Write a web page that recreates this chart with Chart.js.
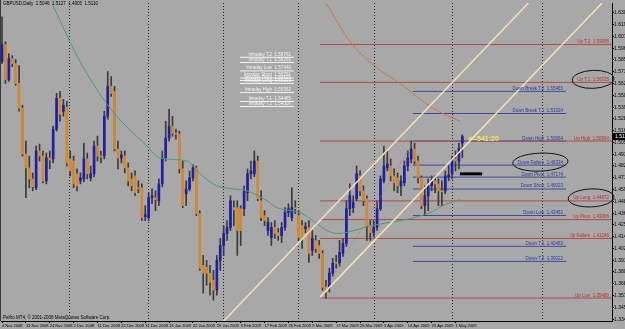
<!DOCTYPE html>
<html>
<head>
<meta charset="utf-8">
<script src="https://cdn.jsdelivr.net/npm/chart.js@4.4.1/dist/chart.umd.min.js"></script>
<style>
  html, body { margin: 0; padding: 0; background: #a8a8a8; overflow: hidden; }
  canvas { display: block; }
</style>
</head>
<body>
<canvas id="chart" width="625" height="329"></canvas>
<script>
const symbolTitle = 'GBPUSD,Daily';
const copyright = 'Pelfro MT4, \u00a9 2001-2008 MetaQuotes Software Corp.';
const countdown = '<--541:20';

// bottom axis: one label every 7 bars
const dateLabels = ['4 Nov 2008', '13 Nov 2008', '24 Nov 2008', '2 Dec 2008', '11 Dec 2008', '22 Dec 2008',
  '31 Dec 2008', '13 Jan 2009', '22 Jan 2009', '29 Jan 2009', '9 Feb 2009', '17 Feb 2009', '26 Feb 2009',
  '9 Mar 2009', '17 Mar 2009', '26 Mar 2009', '3 Apr 2009', '14 Apr 2009', '23 Apr 2009', '1 May 2009'];
const dateStep = 7;
const monthStarts = [19.6, 42.8, 64.8, 86.8, 109.2, 132, 158.4];

const priceTicks = [1.6305, 1.6191, 1.6078, 1.5964, 1.5850, 1.5736, 1.5622, 1.5508, 1.5394, 1.5280,
  1.5166, 1.5052, 1.4939, 1.4825, 1.4711, 1.4597, 1.4483, 1.4369, 1.4255, 1.4141, 1.4027, 1.3913,
  1.3800, 1.3686, 1.3572, 1.3458, 1.3344];

const opens = [1.5834,1.5998,1.5661,1.5863,1.5815,1.5623,1.5383,1.4941,1.4806,1.4700,
  1.4614,1.4970,1.4921,1.4681,1.4902,1.4893,1.5181,1.5479,1.5354,1.5392,
  1.4893,1.4873,1.4749,1.4681,1.4700,1.4893,1.4710,1.4749,1.5018,1.4921,
  1.4921,1.5306,1.5594,1.5546,1.4989,1.4902,1.4921,1.4806,1.4700,1.4729,
  1.4614,1.4614,1.4335,1.4326,1.4518,1.4518,1.4489,1.4652,1.4902,1.5094,
  1.5210,1.5142,1.5133,1.4797,1.4556,1.4604,1.4710,1.4806,1.4364,1.3864,
  1.3845,1.3788,1.3720,1.3624,1.3912,1.4056,1.4172,1.4230,1.4422,1.4422,
  1.4412,1.4412,1.4566,1.4749,1.4749,1.4873,1.4489,1.4345,1.4201,1.4133,
  1.4230,1.4181,1.4153,1.4230,1.4374,1.4326,1.4422,1.4345,1.4249,1.4220,
  1.4230,1.4008,1.4105,1.4056,1.3980,1.3653,1.3653,1.3788,1.3893,1.3884,
  1.3980,1.4076,1.4412,1.4422,1.4508,1.4729,1.4585,1.4508,1.4249,1.4181,
  1.4230,1.4412,1.4681,1.4806,1.4825,1.4729,1.4710,1.4633,1.4662,1.4825,
  1.4893,1.4989,1.4873,1.4710,1.4441,1.4537,1.4633,1.4681,1.4652,1.4585,
  1.4585,1.4720,1.4749,1.4893,1.4873,1.5046];
const highs = [1.6267,1.6027,1.5911,1.5892,1.5854,1.5796,1.5412,1.5066,1.4921,1.4758,
  1.5018,1.5037,1.4970,1.4950,1.4970,1.5210,1.5527,1.5546,1.5469,1.5450,
  1.4970,1.4921,1.4797,1.4758,1.5046,1.4950,1.4825,1.5066,1.5114,1.4970,
  1.5354,1.5738,1.5690,1.5594,1.5066,1.4970,1.4970,1.4854,1.4758,1.4777,
  1.4681,1.4652,1.4441,1.4566,1.4604,1.4585,1.4700,1.4970,1.5258,1.5373,
  1.5306,1.5181,1.5162,1.4873,1.4681,1.4777,1.4835,1.4825,1.4393,1.3960,
  1.3912,1.3864,1.3816,1.3960,1.4124,1.4249,1.4297,1.4537,1.4489,1.4489,
  1.4441,1.4633,1.4797,1.4873,1.4970,1.4921,1.4585,1.4393,1.4326,1.4278,
  1.4297,1.4220,1.4278,1.4422,1.4460,1.4614,1.4489,1.4393,1.4297,1.4278,
  1.4297,1.4201,1.4153,1.4105,1.4008,1.3720,1.3836,1.3932,1.3960,1.4105,
  1.4124,1.4489,1.4652,1.4537,1.4825,1.4777,1.4633,1.4537,1.4297,1.4297,
  1.4489,1.4729,1.5018,1.4970,1.4893,1.4797,1.4758,1.4729,1.4873,1.4970,
  1.5066,1.5046,1.4921,1.4729,1.4633,1.4700,1.4729,1.4729,1.4700,1.4681,
  1.4777,1.4825,1.4921,1.4970,1.5046,1.5127];
const lows = [1.5815,1.5623,1.5642,1.5786,1.5604,1.5354,1.4921,1.4518,1.4614,1.4585,
  1.4595,1.4873,1.4662,1.4652,1.4797,1.4854,1.5162,1.5258,1.5306,1.4825,
  1.4729,1.4614,1.4585,1.4652,1.4672,1.4700,1.4681,1.4720,1.4873,1.4854,
  1.4893,1.5277,1.5498,1.4970,1.4797,1.4854,1.4758,1.4633,1.4585,1.4537,
  1.4566,1.4297,1.4297,1.4297,1.4460,1.4393,1.4441,1.4624,1.4873,1.5066,
  1.5114,1.5085,1.4758,1.4422,1.4441,1.4585,1.4681,1.4345,1.3816,1.3595,
  1.3672,1.3576,1.3528,1.3576,1.3816,1.3960,1.4105,1.4201,1.4249,1.3960,
  1.4056,1.4345,1.4489,1.4700,1.4720,1.4489,1.4297,1.4249,1.4153,1.4056,
  1.4124,1.4105,1.4085,1.4201,1.4335,1.4297,1.4364,1.4105,1.4028,1.4181,
  1.3893,1.3960,1.3989,1.3932,1.3624,1.3547,1.3605,1.3759,1.3836,1.3855,
  1.3951,1.4047,1.4345,1.4374,1.4489,1.4537,1.4441,1.4105,1.4105,1.4143,
  1.4201,1.4393,1.4662,1.4777,1.4681,1.4585,1.4566,1.4537,1.4633,1.4777,
  1.4854,1.4845,1.4662,1.4412,1.4345,1.4393,1.4585,1.4566,1.4441,1.4441,
  1.4556,1.4681,1.4700,1.4777,1.4797,1.4905];
const closes = [1.5998,1.5661,1.5863,1.5815,1.5623,1.5383,1.4941,1.4806,1.4700,1.4624,
  1.4970,1.4921,1.4681,1.4902,1.4883,1.5181,1.5479,1.5325,1.5412,1.4854,
  1.4777,1.4652,1.4633,1.4710,1.4893,1.4749,1.4749,1.5018,1.4921,1.4912,
  1.5306,1.5594,1.5527,1.4989,1.4902,1.4931,1.4806,1.4681,1.4633,1.4566,
  1.4604,1.4326,1.4355,1.4518,1.4537,1.4499,1.4652,1.4902,1.5094,1.5210,
  1.5142,1.5133,1.4797,1.4441,1.4604,1.4710,1.4806,1.4364,1.3836,1.3788,
  1.3788,1.3701,1.3624,1.3912,1.4056,1.4172,1.4230,1.4489,1.4402,1.4201,
  1.4201,1.4585,1.4749,1.4777,1.4873,1.4508,1.4326,1.4297,1.4278,1.4230,
  1.4172,1.4153,1.4230,1.4374,1.4412,1.4422,1.4412,1.4133,1.4124,1.4239,
  1.3980,1.4124,1.4028,1.3980,1.3653,1.3605,1.3788,1.3884,1.3884,1.3989,
  1.4076,1.4412,1.4537,1.4470,1.4749,1.4585,1.4489,1.4249,1.4181,1.4230,
  1.4412,1.4700,1.4825,1.4845,1.4729,1.4662,1.4633,1.4681,1.4825,1.4902,
  1.4989,1.4873,1.4710,1.4441,1.4537,1.4633,1.4681,1.4652,1.4585,1.4576,
  1.4729,1.4739,1.4893,1.4873,1.4998,1.5110];

// moving averages, read at a few bars
const fastMA = [{x:14.7,y:1.6392},{x:22.9,y:1.5834},{x:31.7,y:1.5383},{x:42.5,y:1.5018},{x:46.3,y:1.4902},
  {x:54.3,y:1.4873},{x:58.1,y:1.4749},{x:63.0,y:1.4633},{x:67.7,y:1.4604},{x:71.8,y:1.4585},{x:77.7,y:1.4489},
  {x:80.6,y:1.4422},{x:87.4,y:1.4374},{x:98.2,y:1.4172},{x:108.5,y:1.4249},{x:119.6,y:1.4316},{x:125.5,y:1.4374},
  {x:130.5,y:1.4460},{x:134.3,y:1.4499}];
const slowMA = [{x:95.0,y:1.6401},{x:102.1,y:1.6027},{x:108.8,y:1.5805},{x:116.7,y:1.5623},{x:126.4,y:1.5383},{x:134.3,y:1.5258}];

// hand drawn objects
const channelLow = [{x:93.3,y:1.3557},{x:176.0,y:1.6401}];
const channelHigh = [{x:65.0,y:1.3326},{x:154.4,y:1.6401}];
const swingLine = [{x:93.3,y:1.3557},{x:120.5,y:1.5046}];
const markerBar = [{x:134.3,y:1.4749},{x:140.8,y:1.4749}];

const upNames = ['Up T.2', 'Up T.1', 'Up High', 'Up Long', 'Up Pivot', 'Up Failure', 'Up Low'];
const upValues = [1.59995, 1.56335, 1.50664, 1.44872, 1.43066, 1.41246, 1.35480];
const downNames = ['Down Break T.2', 'Down Break T.1', 'Down High', 'Down Failure', 'Down Pivot', 'Down Short', 'Down Low', 'Down T.1', 'Down T.2'];
const downValues = [1.55465, 1.53324, 1.50664, 1.48334, 1.47174, 1.46023, 1.43463, 1.40483, 1.39022];
const intraNames = ['Intraday T.2', 'Intraday T.1', 'Intraday Low', 'Intraday Short', 'Intraday Pivot', 'Intraday Long', 'Intraday High', 'Intraday T.1', 'Intraday T.2'];
const intraValues = [1.58761, 1.58261, 1.57440, 1.56761, 1.56521, 1.56233, 1.55352, 1.54485, 1.54007];

const X_MIN = -0.3, X_MAX = 178.9;
const upSpan = [93.3, X_MAX], downSpan = [120.5, 165.4], intraSpan = [69.8, 85.6];

const BLUE = '#1e1ea6', ORANGE = '#d4892e', WICK = '#3a3a3a';
const RED = '#b24a4a', NAVY = '#3c4a9c', WHITE = '#f4f4f4';
const FONT = '"Liberation Sans", Arial, sans-serif';

const bars = opens.map((_, i) => i);
const last = bars.length - 1;

function levelLine(v, span, color) {
    return { type: 'line', data: [{ x: span[0], y: v }, { x: span[1], y: v }], borderColor: color,
        borderWidth: 1, pointRadius: 0, fill: false, order: 6 };
}
function trendLine(points, color, width, dash, order) {
    return { type: 'line', data: points, borderColor: color, borderWidth: width, borderDash: dash || [],
        pointRadius: 0, fill: false, order: order };
}

const datasets = [];
upValues.forEach(v => datasets.push(levelLine(v, upSpan, RED)));
downValues.forEach(v => datasets.push(levelLine(v, downSpan, NAVY)));
intraValues.forEach(v => datasets.push(levelLine(v, intraSpan, WHITE)));
datasets.push({
    type: 'bar', data: bars.map(i => ({ x: i, y: [lows[i], highs[i]] })),
    backgroundColor: WICK, barThickness: 1, grouped: false, order: 5
});
datasets.push({
    type: 'bar', data: bars.map(i => ({ x: i, y: [opens[i], closes[i]] })),
    backgroundColor: bars.map(i => closes[i] >= opens[i] ? BLUE : ORANGE),
    barThickness: 2, minBarLength: 1, grouped: false, order: 4
});
datasets.push(Object.assign(trendLine(fastMA, '#4f9a7c', 1, null, 2), { tension: 0.4, cubicInterpolationMode: 'monotone' }));
datasets.push(Object.assign(trendLine(slowMA, '#c87850', 1, null, 2), { tension: 0.4, cubicInterpolationMode: 'monotone' }));
datasets.push(trendLine(channelLow, '#f3e2bc', 1.5, null, 1));
datasets.push(trendLine(channelHigh, '#f3e2bc', 1.5, null, 1));
datasets.push(trendLine(swingLine, '#c07070', 1, [1, 2], 1));
datasets.push(trendLine(markerBar, '#000000', 3, null, 0));

function drawLabels(ctx, names, values, span, color, xs, ys) {
    ctx.fillStyle = color;
    ctx.textAlign = 'right';
    ctx.textBaseline = 'bottom';
    const right = Math.min(xs.getPixelForValue(span[1]), xs.right) - 3;
    names.forEach((n, k) => ctx.fillText(n + '  ' + values[k].toFixed(5), right, ys.getPixelForValue(values[k]) - 0.5));
    return right;
}
function ringLabel(ctx, text, right, y) {
    const w = ctx.measureText(text).width;
    ctx.beginPath();
    ctx.ellipse(right - w / 2, y - 3, w / 2 + 5, 9, -0.04, 0, Math.PI * 2);
    ctx.stroke();
}

const mt4Extras = {
    id: 'mt4Extras',
    beforeDraw(chart) {
        const ctx = chart.ctx;
        ctx.save();
        ctx.fillStyle = '#a8a8a8';
        ctx.fillRect(0, 0, chart.width, chart.height);
        ctx.restore();
    },
    beforeDatasetsDraw(chart) {
        const { ctx, chartArea: a, scales: { x } } = chart;
        ctx.save();
        ctx.strokeStyle = '#262626';
        ctx.lineWidth = 1;
        ctx.setLineDash([1, 2]);
        monthStarts.forEach(m => {
            const px = Math.round(x.getPixelForValue(m)) + 0.5;
            ctx.beginPath();
            ctx.moveTo(px, a.top);
            ctx.lineTo(px, a.bottom);
            ctx.stroke();
        });
        ctx.restore();
    },
    afterDraw(chart) {
        const { ctx, chartArea: a, scales: { x, y } } = chart;
        ctx.save();
        ctx.font = '4.5px ' + FONT;

        const upRight = drawLabels(ctx, upNames, upValues, upSpan, '#b83030', x, y);
        const downRight = drawLabels(ctx, downNames, downValues, downSpan, '#2c3a98', x, y);
        drawLabels(ctx, intraNames, intraValues, intraSpan, WHITE, x, y);

        ctx.strokeStyle = '#111';
        ctx.lineWidth = 1;
        ringLabel(ctx, upNames[1] + '  ' + upValues[1].toFixed(5), upRight, y.getPixelForValue(upValues[1]));
        ringLabel(ctx, upNames[3] + '  ' + upValues[3].toFixed(5), upRight, y.getPixelForValue(upValues[3]));
        ringLabel(ctx, downNames[3] + '  ' + downValues[3].toFixed(5), downRight, y.getPixelForValue(downValues[3]));

        // header and footer
        ctx.fillStyle = '#000';
        ctx.textAlign = 'left';
        ctx.textBaseline = 'top';
        ctx.fillText(symbolTitle + '  ' + [opens[last], highs[last], lows[last], closes[last]].map(v => v.toFixed(4)).join('  '), 3, 2);
        ctx.textBaseline = 'bottom';
        ctx.fillText(copyright, 3, a.bottom - 1);

        // bar countdown
        const cy = y.getPixelForValue(closes[last]);
        ctx.font = 'bold 7px ' + FONT;
        ctx.fillStyle = '#f2ee4a';
        ctx.textBaseline = 'middle';
        ctx.fillText(countdown, x.getPixelForValue(last) + 6, cy + 3);

        // bid box on the price scale
        ctx.fillStyle = '#000';
        ctx.fillRect(a.right + 1, cy - 3.5, chart.width - a.right, 7);
        ctx.fillStyle = '#fff';
        ctx.font = '5px ' + FONT;
        ctx.fillText(closes[last].toFixed(4), a.right + 3, cy);

        // left frame
        ctx.strokeStyle = '#3a3a3a';
        ctx.beginPath();
        ctx.moveTo(0.5, 0);
        ctx.lineTo(0.5, a.bottom);
        ctx.stroke();
        ctx.restore();
    }
};

Chart.defaults.font.family = FONT;

new Chart(document.getElementById('chart'), {
    type: 'bar',
    data: { datasets: datasets },
    options: {
        responsive: false,
        animation: false,
        events: [],
        layout: { padding: { left: 1, top: 1, right: 0, bottom: 0 } },
        plugins: { legend: { display: false }, tooltip: { enabled: false } },
        scales: {
            x: {
                type: 'linear', min: X_MIN, max: X_MAX, offset: false,
                grid: { display: true, offset: false, drawOnChartArea: false, drawTicks: true, tickLength: 2, color: '#000' },
                border: { display: true, color: '#000' },
                afterBuildTicks: s => { s.ticks = dateLabels.map((_, k) => ({ value: k * dateStep })); },
                afterFit: s => { s.height = 8; },
                ticks: {
                    autoSkip: false, maxRotation: 0, minRotation: 0, align: 'start', padding: 0,
                    color: '#000', font: { size: 4 },
                    callback: (v, i) => dateLabels[i]
                }
            },
            y: {
                position: 'right', min: 1.3326, max: 1.6401,
                grid: { display: true, drawOnChartArea: false, drawTicks: true, tickLength: 2, color: '#000' },
                border: { display: true, color: '#000' },
                afterBuildTicks: s => { s.ticks = priceTicks.map(v => ({ value: v })); },
                afterFit: s => { s.width = 13; },
                ticks: {
                    autoSkip: false, padding: 0, color: '#000', font: { size: 5 },
                    callback: v => v.toFixed(4)
                }
            }
        }
    },
    plugins: [mt4Extras]
});
</script>
</body>
</html>
